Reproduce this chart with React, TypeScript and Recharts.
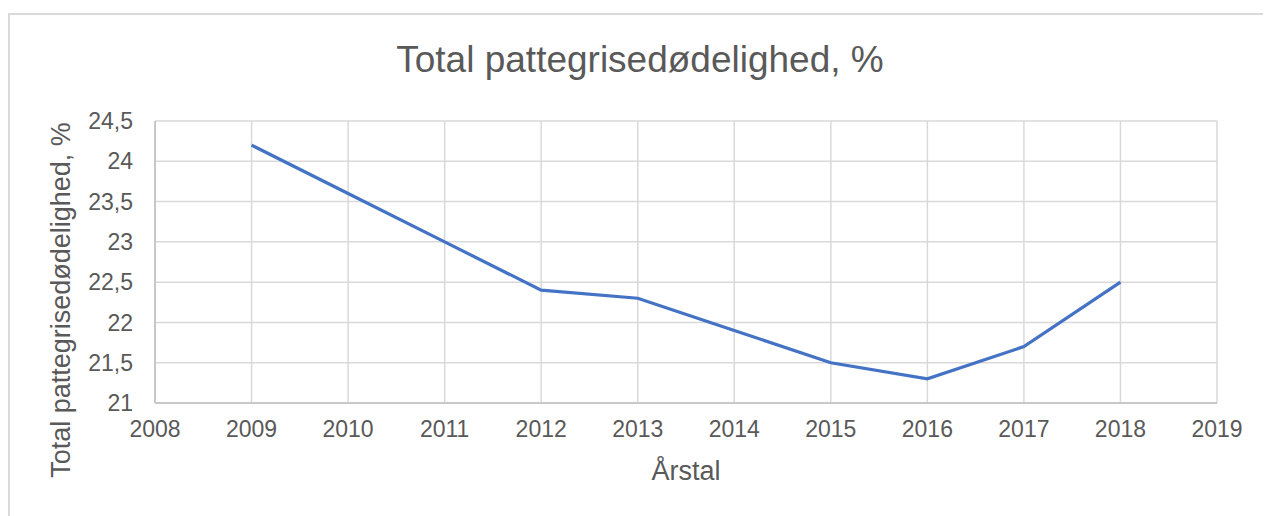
import { CartesianGrid, Line, LineChart, XAxis, YAxis } from "recharts";

const years = [2009, 2010, 2011, 2012, 2013, 2014, 2015, 2016, 2017, 2018];
const mortality = [24.2, 23.6, 23.0, 22.4, 22.3, 21.9, 21.5, 21.3, 21.7, 22.5];
const xTicks = [2008, 2009, 2010, 2011, 2012, 2013, 2014, 2015, 2016, 2017, 2018, 2019];
const yTicks = [21, 21.5, 22, 22.5, 23, 23.5, 24, 24.5];

const data = years.map((year, i) => ({ year, value: mortality[i] }));

const FONT = "'Liberation Sans', Arial, sans-serif";
const TEXT = "#595959";
const GRID = "#d9d9d9";

const fmt = (v: number) => String(v).replace(".", ",");

export default function App() {
  return (
    <div style={{ position: "relative", width: 1263, height: 508, overflow: "hidden", fontFamily: FONT }}>
      {/* chart frame, only top and left edges are in view */}
      <div
        style={{
          position: "absolute",
          left: 0,
          top: 5,
          width: 1400,
          height: 600,
          borderTop: `2px solid ${GRID}`,
          borderLeft: `2px solid ${GRID}`,
          boxSizing: "border-box",
        }}
      />
      <div
        style={{
          position: "absolute",
          left: 0,
          top: 33,
          width: 1264,
          textAlign: "center",
          fontSize: 37,
          lineHeight: "37px",
          color: TEXT,
        }}
      >
        Total pattegrisedødelighed, %
      </div>
      <div style={{ position: "absolute", left: 0, top: 0 }}>
        <LineChart width={1263} height={508} data={data} margin={{ top: 113, right: 54, bottom: 33, left: 7 }}>
          <CartesianGrid stroke={GRID} strokeWidth={1.5} />
          <XAxis
            dataKey="year"
            type="number"
            domain={[2008, 2019]}
            ticks={xTicks}
            interval={0}
            height={80}
            tickLine={false}
            tickSize={0}
            tickMargin={18}
            axisLine={{ stroke: "#bfbfbf", strokeWidth: 1.5 }}
            tick={{ fill: TEXT, fontSize: 23, fontFamily: FONT }}
            label={{
              content: () => (
                <text x={678} y={472} textAnchor="middle" fill={TEXT} fontSize={27} fontFamily={FONT}>
                  Årstal
                </text>
              ),
            }}
          />
          <YAxis
            type="number"
            domain={[21, 24.5]}
            ticks={yTicks}
            interval={0}
            width={140}
            tickLine={false}
            tickSize={0}
            tickMargin={22}
            axisLine={{ stroke: "#bfbfbf", strokeWidth: 1.5 }}
            tickFormatter={fmt}
            tick={{ fill: TEXT, fontSize: 23, fontFamily: FONT }}
            label={{
              content: () => (
                <text
                  x={62}
                  y={292}
                  transform="rotate(-90 62 292)"
                  textAnchor="middle"
                  fill={TEXT}
                  fontSize={27}
                  fontFamily={FONT}
                >
                  Total pattegrisedødelighed, %
                </text>
              ),
            }}
          />
          <Line
            type="linear"
            dataKey="value"
            stroke="#4472c4"
            strokeWidth={3.2}
            dot={false}
            activeDot={false}
            isAnimationActive={false}
          />
        </LineChart>
      </div>
    </div>
  );
}
